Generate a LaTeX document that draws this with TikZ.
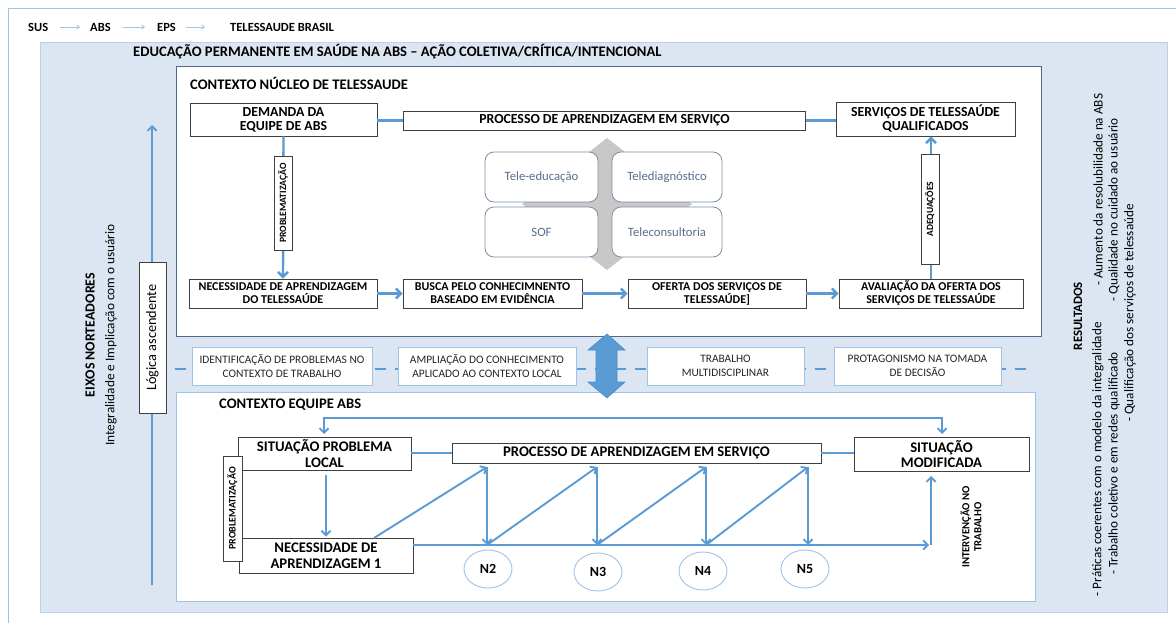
\documentclass[tikz,border=0pt]{standalone}
\usepackage{fontspec}
\setmainfont{Carlito}
\usetikzlibrary{arrows.meta,shapes.geometric}
\definecolor{panel}{HTML}{DCE6F2}
\definecolor{panelline}{HTML}{BDD0E9}
\definecolor{conn}{HTML}{5B9BD5}
\definecolor{lightconn}{HTML}{9DC3E6}
\definecolor{darkframe}{HTML}{50698A}
\definecolor{greytxt}{HTML}{596E8C}
\definecolor{greyline}{HTML}{7F8EA5}
\definecolor{diam}{HTML}{C8C8C8}
\definecolor{boxline}{HTML}{404040}
\definecolor{darrow}{HTML}{4A89C8}
\begin{document}
\begin{tikzpicture}[x=1pt,y=-1pt,
  tbox/.style={draw=boxline,fill=white,line width=0.9pt,inner sep=0pt,align=center,
    font=\fontsize{13.8}{14}\selectfont\bfseries},
  tbox2/.style={tbox,font=\fontsize{12}{13}\selectfont\bfseries},
  bbox/.style={tbox,font=\fontsize{14.7}{15.5}\selectfont\bfseries},
  vbox/.style={draw=boxline,fill=white,line width=0.9pt,inner sep=0pt,rotate=90,
    font=\fontsize{9.6}{10}\selectfont\bfseries},
  rbox/.style={draw=greyline,fill=white,line width=0.8pt,rounded corners=9pt,inner sep=0pt,
    minimum height=50pt,text=greytxt,font=\fontsize{12.7}{13}\selectfont},
  mbox/.style={draw=lightconn,fill=white,line width=0.9pt,inner sep=0pt,align=center,
    minimum height=38pt,text=black!85,font=\fontsize{11.4}{14}\selectfont},
  nell/.style={ellipse,draw=lightconn,fill=white,line width=0.9pt,minimum width=48pt,
    minimum height=38pt,inner sep=0pt,font=\fontsize{14}{14}\selectfont\bfseries},
  ln/.style={draw=conn,line width=2.4pt},
  arr/.style={ln,-{Straight Barb[length=5pt,width=10pt]}},
  ln2/.style={draw=conn,line width=1.9pt},
  arr2/.style={ln2,-{Straight Barb[length=4.5pt,width=9pt]}},
  toparr/.style={draw=lightconn,line width=0.8pt,-{Straight Barb[length=2.5pt,width=4pt]}},
  lbl/.style={inner sep=0pt,font=\fontsize{12.5}{13}\selectfont\bfseries},
  vtxt/.style={inner sep=0pt,rotate=90},
  rtxt/.style={vtxt,font=\fontsize{13.2}{13.2}\selectfont},
]
\useasboundingbox (0,0) rectangle (1176,623);
\clip (0,0) rectangle (1176,623);
\fill[white] (0,0) rectangle (1176,623);
\draw[lightconn,line width=0.8pt] (8,8) rectangle (1190,640);
\node[draw=panelline,fill=panel,line width=0.8pt,minimum width=1127pt,minimum height=570pt,
  inner sep=0pt,anchor=north west] (panel) at (40,42) {};

% top labels
\node[lbl,anchor=west] (sus) at (28,27) {SUS};
\node[lbl,anchor=west] (abs) at (90,27) {ABS};
\node[lbl,anchor=west] (eps) at (157,27) {EPS};
\node[lbl,anchor=west] (tb) at (230,27) {TELESSAUDE BRASIL};
\draw[toparr,shorten <=12pt,shorten >=10pt] (sus.east) -- (abs.west);
\draw[toparr,shorten <=12pt,shorten >=12pt] (abs.east) -- (eps.west);
\draw[toparr,shorten <=10pt,shorten >=25pt] (eps.east) -- (tb.west);

\node[anchor=west,inner sep=0pt,font=\fontsize{14.6}{15}\selectfont\bfseries] (title) at (133,52)
  {EDUCAÇÃO PERMANENTE EM SAÚDE NA ABS – AÇÃO COLETIVA/CRÍTICA/INTENCIONAL};

% ---------- top context ----------
\node[draw=darkframe,fill=white,line width=1pt,minimum width=865pt,minimum height=270pt,
  inner sep=0pt,anchor=north west] (topctx) at (176,66) {};
\node[anchor=west,inner sep=0pt,font=\fontsize{14.6}{15}\selectfont\bfseries] (toptitle) at (190,83)
  {CONTEXTO NÚCLEO DE TELESSAUDE};

\node[tbox,minimum width=187pt,minimum height=33pt] (dem) at (283.5,119.5) {DEMANDA DA\\EQUIPE DE ABS};
\node[tbox,minimum width=402pt,minimum height=19pt] (proc) at (604.5,120.5) {PROCESSO DE APRENDIZAGEM EM SERVIÇO};
\node[tbox,minimum width=179pt,minimum height=34pt] (serv) at (925.5,119) {SERVIÇOS DE TELESSAÚDE\\QUALIFICADOS};
\node[tbox2,minimum width=188pt,minimum height=29pt] (nec) at (283,293.5) {NECESSIDADE DE APRENDIZAGEM\\DO TELESSAÚDE};
\node[tbox2,minimum width=179pt,minimum height=29pt] (busca) at (492.5,293.5) {BUSCA PELO CONHECIMNENTO\\BASEADO EM EVIDÊNCIA};
\node[tbox2,minimum width=178pt,minimum height=29pt] (oferta) at (717,293.5) {OFERTA DOS SERVIÇOS DE\\TELESSAÚDE]};
\node[tbox2,minimum width=184pt,minimum height=29pt] (aval) at (931,293.5) {AVALIAÇÃO DA OFERTA DOS\\SERVIÇOS DE TELESSAÚDE};

\draw[ln] (dem.east |- proc) -- (proc.west);
\draw[ln] (proc.east) -- (proc.east -| serv.west);
\draw[arr] (dem.south) -- (nec.north);
\draw[arr] (nec.east) -- (busca.west);
\draw[arr] (busca.east) -- (oferta.west);
\draw[arr] (oferta.east) -- (aval.west);
\draw[arr] (aval.north) -- (aval.north |- serv.south);

\node[vbox,minimum width=94pt,minimum height=18pt] (probl) at (283,203) {PROBLEMATIZAÇÃO};
\node[vbox,minimum width=110pt,minimum height=18pt,font=\fontsize{9.5}{9.5}\selectfont\bfseries] (adeq) at (930,209) {ADEQUAÇÕES};

% centre matrix
\fill[diam] (607,138) -- (692,204) -- (607,270) -- (522,204) -- cycle;
\node[rbox,minimum width=113pt] (tedu) at (541.5,177) {Tele-educação};
\node[rbox,minimum width=110pt] (tdiag) at (667,177) {Telediagnóstico};
\node[rbox,minimum width=113pt] (sof) at (541.5,232) {SOF};
\node[rbox,minimum width=110pt] (tcons) at (667,232) {Teleconsultoria};

% ---------- middle band ----------
\coordinate (dl) at (175,369);
\coordinate (dr) at (1035,369);
\draw[conn,line width=2pt,dash pattern=on 11pt off 9pt] (dl) -- (dr);
\node[mbox,minimum width=180pt] (m1) at (282,366) {IDENTIFICAÇÃO DE PROBLEMAS NO\\CONTEXTO DE TRABALHO};
\node[mbox,minimum width=178pt] (m2) at (487,366) {AMPLIAÇÃO DO CONHECIMENTO\\APLICADO AO CONTEXTO LOCAL};
\node[mbox,minimum width=157pt] (m3) at (725.5,366) {TRABALHO\\MULTIDISCIPLINAR};
\node[mbox,minimum width=167pt] (m4) at (917.5,366) {PROTAGONISMO NA TOMADA\\DE DECISÃO};

% ---------- bottom context ----------
\node[draw=lightconn,fill=white,line width=1pt,minimum width=859pt,minimum height=209pt,
  inner sep=0pt,anchor=north west] (botctx) at (176,392) {};
\node[anchor=west,inner sep=0pt,font=\fontsize{14.6}{15}\selectfont\bfseries] (bottitle) at (219,405)
  {CONTEXTO EQUIPE ABS};

% double arrow between contexts
\fill[conn,draw=darrow,line width=0.6pt] (607,334) -- (625,350) -- (617,350) -- (617,382) -- (625,382)
  -- (607,398) -- (588,382) -- (596,382) -- (596,350) -- (588,350) -- cycle;

\node[bbox,minimum width=173pt,minimum height=33pt] (sp) at (324.5,453.5) {SITUAÇÃO PROBLEMA\\LOCAL};
\node[bbox,minimum width=174pt,minimum height=35pt] (nec1) at (326,555.5) {NECESSIDADE DE\\APRENDIZAGEM 1};
\node[bbox,minimum width=369pt,minimum height=20pt] (bproc) at (636.5,453) {PROCESSO DE APRENDIZAGEM EM SERVIÇO};
\node[bbox,minimum width=175pt,minimum height=34pt] (sm) at (941.5,454) {SITUAÇÃO\\MODIFICADA};
\node[vbox,minimum width=105pt,minimum height=19pt,font=\fontsize{10}{10}\selectfont\bfseries] (probl2) at (232.5,508.5) {PROBLEMATIZAÇÃO};

\draw[ln2] (sp.east |- bproc) -- (bproc.west);
\draw[ln2] (bproc.east) -- (bproc.east -| sm.west);
\draw[arr2,shorten <=5pt,shorten >=1pt] (sp.south -| 326,0) -- (nec1.north);

\coordinate (lp1) at (324,434);
\coordinate (lt1) at (324,418);
\coordinate (lt2) at (942,418);
\coordinate (lp2) at (942,434);
\draw[ln2,{Straight Barb[length=4.5pt,width=9pt]}-{Straight Barb[length=4.5pt,width=9pt]}] (lp1) -- (lt1) -- (lt2) -- (lp2);

\coordinate (z0) at (374,538);
\coordinate (t2) at (487,467); \coordinate (b2) at (487,545);
\coordinate (t3) at (597,467); \coordinate (b3) at (597,545);
\coordinate (t4) at (706,467); \coordinate (b4) at (706,545);
\coordinate (t5) at (808,467); \coordinate (b5) at (808,545);
\coordinate (ie) at (929,545);
\coordinate (iv) at (931,545);
\coordinate (it) at (931,476);

\draw[arr2] (nec1.east |- b2) -- (ie);
\draw[arr2] (iv) -- (it);
\draw[arr2] (z0) -- (t2);
\draw[arr2] (t2) -- (b2);
\draw[arr2] (b2) -- (t3);
\draw[arr2] (t3) -- (b3);
\draw[arr2] (b3) -- (t4);
\draw[arr2] (t4) -- (b4);
\draw[arr2] (b4) -- (t5);
\draw[arr2] (t5) -- (b5);

\node[nell] (n2) at (488,569) {N2};
\node[nell] (n3) at (598,572) {N3};
\node[nell] (n4) at (703,571) {N4};
\node[nell] (n5) at (805,569) {N5};

\node[vtxt,align=center,font=\fontsize{10.8}{12}\selectfont\bfseries] (interv) at (971,527) {INTERVENÇÃO NO\\TRABALHO};

% ---------- left side ----------
\coordinate (la0) at (152,585);
\coordinate (la1) at (152,125);
\draw[arr2] (la0) -- (la1);
\node[draw=boxline,fill=white,line width=0.8pt,inner sep=0pt,rotate=90,minimum width=151pt,minimum height=27pt,
  font=\fontsize{14.3}{14.3}\selectfont] (logica) at (152.5,337.5) {Lógica ascendente};
\node[vtxt,font=\fontsize{13.9}{14}\selectfont\bfseries] (eixos) at (90,335) {EIXOS NORTEADORES};
\node[vtxt,font=\fontsize{13.3}{14}\selectfont] (integ) at (111,335) {Integralidade e Implicação com o usuário};

% ---------- right side ----------
\node[vtxt,font=\fontsize{12.8}{13}\selectfont\bfseries] (res) at (1078,316) {RESULTADOS};
\node[rtxt,anchor=east] (r1a) at (1098,322) {- Práticas coerentes com o modelo da integralidade};
\node[rtxt,anchor=west] (r1b) at (1098,286) {- Aumento da resolubilidade na ABS};
\node[rtxt,anchor=west] (r2a) at (1114,575) {- Trabalho coletivo e em redes qualificado};
\node[rtxt,anchor=west] (r2b) at (1114,302) {- Qualidade no cuidado ao usuário};
\node[rtxt] (r3) at (1130,313) {- Qualificação dos serviços de telessaúde};
\end{tikzpicture}
\end{document}
